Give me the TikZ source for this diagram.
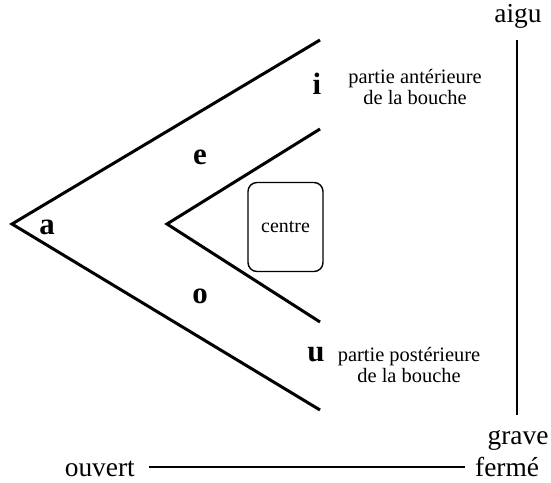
\documentclass[tikz,border=0pt]{standalone}
\usepackage{fontspec}
\setmainfont{Liberation Serif}
\begin{document}
\begin{tikzpicture}[x=1bp,y=-1bp,
  vline/.style={line width=3bp,line cap=butt},
  axis/.style={line width=2.6bp},
  vowel/.style={font=\fontsize{31}{33}\selectfont\bfseries,inner sep=0pt},
  axislabel/.style={font=\fontsize{27.5}{30}\selectfont,inner sep=0pt,anchor=base},
  region/.style={font=\fontsize{20.5}{22}\selectfont,align=center,inner sep=0pt},
  centrebox/.style={draw,line width=1.4bp,rounded corners=9bp,minimum width=75bp,minimum height=89bp,font=\fontsize{20}{22}\selectfont}]
\useasboundingbox (0,0) rectangle (551,483);

% outer wedge
\coordinate (oa) at (12,224);
\coordinate (ot) at (320,40);
\coordinate (ob) at (320,410);
\draw[vline] (ot) -- (oa) -- (ob);

% inner wedge
\coordinate (ia) at (167,224);
\coordinate (it) at (320,129);
\coordinate (ib) at (320,322);
\draw[vline] (it) -- (ia) -- (ib);

% vowels
\node[vowel] (a) at (47,227) {a};
\node[vowel] (e) at (200,157) {e};
\node[vowel] (i) at (317,84) {i};
\node[vowel] (o) at (200,296) {o};
\node[vowel] (u) at (316,355) {u};

% centre
\node[centrebox] (centre) at (285.5,227) {centre};

% mouth regions
\node[region] (ant) at (415,87) {partie antérieure\\de la bouche};
\node[region] (post) at (409,365) {partie postérieure\\de la bouche};

% acute / grave axis
\node[axislabel] (aigu) at (518,23) {aigu};
\node[axislabel] (grave) at (518,444) {grave};
\coordinate (vt) at (517,40);
\coordinate (vb) at (517,415);
\draw[axis] (vt) -- (vb);

% open / closed axis
\node[axislabel,anchor=base east] (ouvert) at (135,476) {ouvert};
\node[axislabel,anchor=base west] (ferme) at (475,476) {fermé};
\draw[axis] ([xshift=14bp,yshift=9bp]ouvert.base east) -- ([xshift=-10bp,yshift=9bp]ferme.base west);
\end{tikzpicture}
\end{document}
